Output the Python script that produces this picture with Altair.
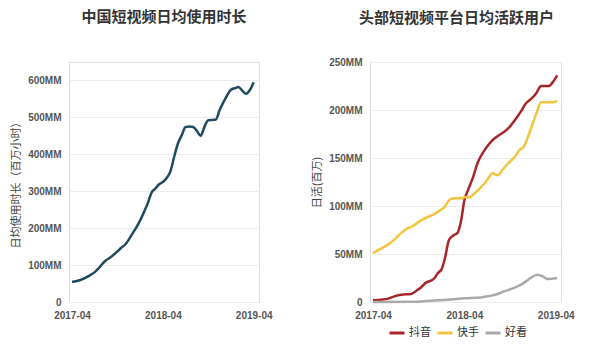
import altair as alt
import pandas as pd

# Left chart: month offset from 2017-04, value (MM hours)
left_m = [0, 0.5, 1, 1.5, 2, 2.5, 3, 3.5, 4, 4.5, 5, 5.5, 6, 6.5, 7, 7.5, 8, 8.5, 9, 9.5,
          10, 10.5, 11, 11.5, 12, 12.5, 13, 13.5, 14, 14.5, 15, 15.5, 16, 16.5, 17, 17.5,
          18, 18.5, 19, 19.5, 20, 20.5, 21, 21.5, 22, 22.5, 23, 23.5, 24]
left_v = [54, 56, 59, 63, 68, 74, 81, 91, 103, 113, 120, 128, 137, 147, 155, 169, 186, 202,
          221, 243, 267, 296, 307, 319, 325, 336, 354, 394, 430, 452, 474, 475, 474, 463, 450,
          475, 492, 493, 494, 520, 541, 560, 575, 579, 582, 572, 564, 574, 595]

douyin_m = [0, 1.1, 2.0, 2.8, 3.7, 5.0, 5.7, 6.3, 7.0, 7.6, 8.1, 8.5, 9.0, 9.4, 10.0, 10.7,
            11.1, 11.6, 12.0, 12.4, 13.1, 13.8, 14.4, 15.1, 15.9, 16.6, 17.2, 17.9, 18.6,
            19.4, 20.1, 20.7, 21.4, 22.1, 22.7, 23.1, 23.8, 24.2]
douyin_v = [1.7, 2.4, 3.5, 5.9, 7.6, 8.3, 11.8, 15.2, 20.4, 22.2, 25, 30, 34, 44, 65, 70, 72,
            86, 106, 115, 129, 146, 155, 163, 170, 174, 177, 182, 189, 198, 207, 211, 217,
            225, 225, 225, 231, 236]

kuaishou_m = [0, 0.9, 2.0, 2.8, 3.7, 4.6, 5.2, 6.1, 7.0, 7.9, 8.7, 9.4, 10.0, 10.7, 11.6,
              12.0, 12.7, 13.1, 14.0, 14.8, 15.7, 16.4, 17.0, 17.7, 18.6, 19.2, 19.9, 20.5,
              21.4, 22.1, 22.7, 23.6, 24.2]
kuaishou_v = [51, 55, 60, 65, 72, 77, 79, 84, 88, 91, 95, 99, 106, 108, 108, 109, 109, 111.5,
              118, 125, 134, 132, 137.5, 144, 151, 158, 163, 175, 195, 208, 208, 208, 209.5]

haokan_m = [0, 5.9, 7.6, 9.8, 12.0, 14.2, 15.1, 16.4, 17.2, 18.1, 19.2, 20.1, 20.7, 21.6,
            22.3, 22.9, 24.2]
haokan_v = [0, 0.3, 1.4, 2.4, 3.8, 4.8, 5.9, 8.3, 11, 13.5, 17, 21.5, 25, 28.4, 26.7, 24, 25]

series_names = ["抖音", "快手", "好看"]
series_colors = ["#a8262a", "#f2c53d", "#aaaaaa"]
tick_months = [0, 12, 24]

CJK = "Noto Sans CJK SC"
LAT = "Liberation Sans"
label_expr = "datum.value == 0 ? '2017-04' : datum.value == 12 ? '2018-04' : '2019-04'"

left_df = pd.DataFrame({"m": left_m, "v": left_v})
right_df = pd.concat([
    pd.DataFrame({"m": douyin_m, "v": douyin_v, "s": series_names[0]}),
    pd.DataFrame({"m": kuaishou_m, "v": kuaishou_v, "s": series_names[1]}),
    pd.DataFrame({"m": haokan_m, "v": haokan_v, "s": series_names[2]}),
])

xaxis = alt.Axis(values=tick_months, labelExpr=label_expr, title=None, grid=False,
                 domain=False, ticks=False, labelFontWeight="bold", labelFontSize=10,
                 labelColor="#555555", labelPadding=8, labelFont=LAT, labelFlush=False)

def yaxis(title, values):
    return alt.Axis(values=values, labelExpr="datum.value == 0 ? '0' : datum.value + 'MM'",
                    title=title, grid=True, gridColor="#ececec", domain=False, ticks=False,
                    labelFontWeight="bold", labelFontSize=10, labelColor="#555555",
                    labelPadding=8, labelFont=LAT, titleFont=CJK, titleFontSize=11,
                    titleFontWeight="normal", titleColor="#444444", titlePadding=6)

xscale = alt.Scale(domain=[-0.4, 24.7], nice=False, zero=False)

left = alt.Chart(left_df, title=alt.TitleParams("中国短视频日均使用时长", font=CJK, fontSize=15,
                                                 fontWeight="bold", color="#333333",
                                                 frame="group", anchor="middle", offset=37)).mark_line(
    color="#1f4b60", strokeWidth=2.5, interpolate="monotone").encode(
    x=alt.X("m:Q", scale=xscale, axis=xaxis),
    y=alt.Y("v:Q", scale=alt.Scale(domain=[0, 650], nice=False),
            axis=yaxis("日均使用时长（百万小时）", [0, 100, 200, 300, 400, 500, 600])),
).properties(width=190, height=240)

right = alt.Chart(right_df, title=alt.TitleParams("头部短视频平台日均活跃用户", font=CJK, fontSize=15,
                                                   fontWeight="bold", color="#333333",
                                                   frame="group", anchor="middle", dx=-9,
                                                   offset=31)).mark_line(
    strokeWidth=2.5, interpolate="monotone").encode(
    x=alt.X("m:Q", scale=xscale, axis=xaxis),
    y=alt.Y("v:Q", scale=alt.Scale(domain=[0, 250], nice=False),
            axis=yaxis("日活(百万)", [0, 50, 100, 150, 200, 250])),
    color=alt.Color("s:N", scale=alt.Scale(domain=series_names, range=series_colors),
                    legend=alt.Legend(orient="none", legendX=319, legendY=262,
                                      direction="horizontal", title=None,
                                      symbolType="stroke", symbolStrokeWidth=3, symbolSize=225,
                                      labelFont=CJK, labelFontSize=11, labelColor="#333333",
                                      labelOffset=3, columnPadding=0)),
).properties(width=191, height=240)

chart = alt.hconcat(left, right, spacing=38).properties(
    padding={"left": 2, "top": 1, "right": 0, "bottom": 0}
).configure_view(stroke=None).configure(background="white")

chart.save("out.html", embed_options={"renderer": "svg", "actions": False})
